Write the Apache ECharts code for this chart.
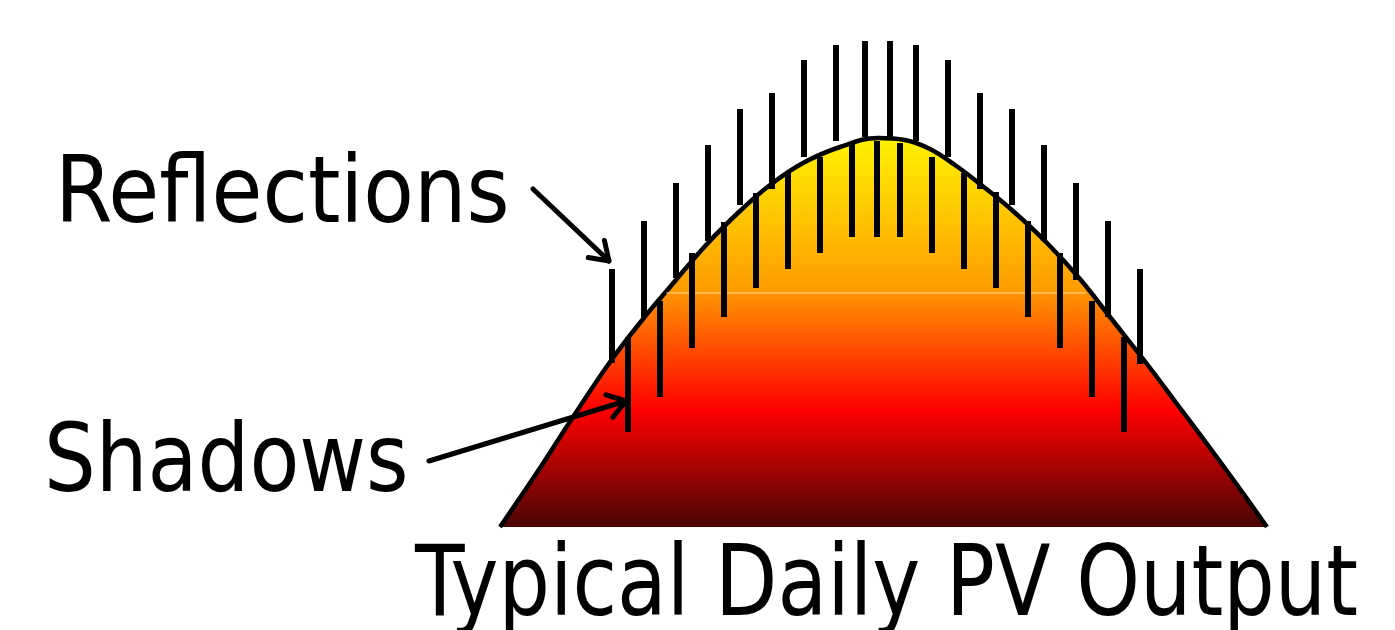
<!DOCTYPE html>
<html>
<head>
<meta charset="utf-8">
<title>Typical Daily PV Output</title>
<script src="https://cdn.jsdelivr.net/npm/echarts@6.0.0/dist/echarts.min.js"></script>
<style>
  html, body { margin: 0; padding: 0; background: #fff; }
  #pv_box { width: 1395px; height: 630px; }
</style>
</head>
<body>
<div id="pv_box"></div>
<script>
// daily output curve: [time unit, output]
var outputCurve = [
    [0, 0], [40, 59], [73, 110], [110, 165], [143, 208], [170, 240], [207, 283],
    [240, 316], [270, 342], [303, 364], [340, 380], [378, 389], [405, 387],
    [430, 378], [455, 362], [480, 343], [513, 316], [547, 284], [580, 248],
    [610, 210], [647, 163], [680, 119], [713, 75], [740, 38], [767, 0]
];
// reflections: [time, low, high]
var reflections = [
    [112, 164, 258], [144, 210, 306], [176, 249, 344], [208, 286, 382],
    [240, 322, 418], [272, 338, 434], [304, 370, 467], [336, 386, 482],
    [365, 390, 486], [390, 390, 486], [416, 386, 482], [448, 370, 467],
    [480, 338, 434], [512, 322, 418], [544, 286, 382], [576, 247, 344],
    [608, 210, 306], [640, 163, 258]
];
// shadows: [time, low, high]
var shadows = [
    [128, 95, 190], [160, 130, 226], [192, 179, 274], [224, 210, 305],
    [256, 239, 334], [288, 258, 354], [320, 274, 370], [352, 290, 385],
    [377, 290, 386], [400, 290, 384], [432, 274, 370], [464, 258, 354],
    [496, 239, 335], [528, 210, 306], [560, 179, 274], [592, 130, 226],
    [624, 95, 190]
];
// faint seam inside the fill
var seamLine = [[166, 234], [586, 234]];
// annotation arrows: [fromX, fromY, toX, toY]
var arrows = [
    [33, 338, 109, 266],
    [-71, 66, 126, 126]
];

var chart = echarts.init(document.getElementById('pv_box'));

function barItem(params, api) {
    var x = api.value(0);
    var p1 = api.coord([x, api.value(1)]);
    var p2 = api.coord([x, api.value(2)]);
    return {
        type: 'line',
        shape: {x1: p1[0], y1: p1[1], x2: p2[0], y2: p2[1]},
        style: {stroke: '#000', lineWidth: 6, lineCap: 'butt'}
    };
}

function arrowItem(params, api) {
    var a = api.coord([api.value(0), api.value(1)]);
    var b = api.coord([api.value(2), api.value(3)]);
    var ang = Math.atan2(a[1] - b[1], a[0] - b[0]);
    var len = 21, spread = 34 * Math.PI / 180;
    var style = {stroke: '#000', lineWidth: 5, lineCap: 'round', lineJoin: 'round', fill: null};
    return {
        type: 'group',
        children: [
            {type: 'line', shape: {x1: a[0], y1: a[1], x2: b[0], y2: b[1]}, style: style},
            {type: 'polyline', shape: {points: [
                [b[0] + len * Math.cos(ang - spread), b[1] + len * Math.sin(ang - spread)],
                b,
                [b[0] + len * Math.cos(ang + spread), b[1] + len * Math.sin(ang + spread)]
            ]}, style: style}
        ]
    };
}

var font = '"DejaVu Sans Condensed", "DejaVu Sans", sans-serif';

var option = {
    animation: false,
    grid: {left: 500, top: 27, width: 768, height: 500},
    xAxis: {type: 'value', min: 0, max: 768, show: false},
    yAxis: {type: 'value', min: 0, max: 500, show: false},
    graphic: [
        {type: 'text', x: 55, y: 152, scaleX: 1.0,
            style: {text: 'Reflections', font: '92px ' + font, fill: '#000', verticalAlign: 'top'}},
        {type: 'text', x: 44, y: 419, scaleX: 0.955,
            style: {text: 'Shadows', font: '95px ' + font, fill: '#000', verticalAlign: 'top'}},
        {type: 'text', x: 415, y: 541, scaleX: 0.92,
            style: {text: 'Typical Daily PV Output', font: '98px ' + font, fill: '#000', verticalAlign: 'top'}}
    ],
    series: [
        {
            type: 'line',
            data: outputCurve,
            smooth: 0.4,
            symbol: 'none',
            z: 1,
            lineStyle: {color: '#000', width: 4.5},
            areaStyle: {
                opacity: 1,
                color: new echarts.graphic.LinearGradient(0, 0, 0, 1, [
                    {offset: 0, color: '#fff200'},
                    {offset: 0.398, color: '#ff9a00'},
                    {offset: 0.4, color: '#ff9200'},
                    {offset: 0.7, color: '#ff0000'},
                    {offset: 1, color: '#4a0505'}
                ])
            }
        },
        {
            type: 'line',
            data: seamLine,
            symbol: 'none',
            z: 1,
            lineStyle: {color: '#ffd9a0', width: 1}
        },
        {type: 'custom', data: reflections, renderItem: barItem, clip: false, z: 5},
        {type: 'custom', data: shadows, renderItem: barItem, clip: false, z: 5},
        {type: 'custom', data: arrows, renderItem: arrowItem, clip: false, z: 5}
    ]
};
chart.setOption(option);
</script>
</body>
</html>
